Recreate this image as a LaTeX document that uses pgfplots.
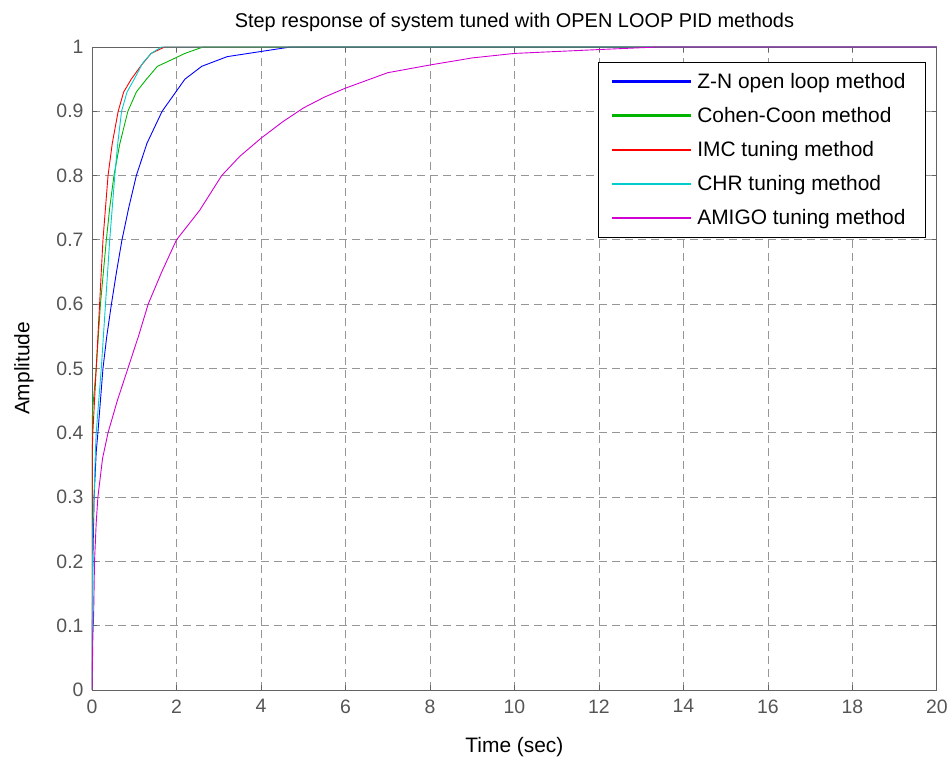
\documentclass[border=0pt]{standalone}
\usepackage{pgfplots}
\pgfplotsset{compat=1.18}
\usepackage{fontspec}
\setmainfont{Liberation Sans}
\definecolor{axgray}{RGB}{100,100,100}
\definecolor{ticktext}{RGB}{85,85,85}
\definecolor{gridgray}{RGB}{150,150,150}
\definecolor{mgreen}{RGB}{0,180,0}
\definecolor{mcyan}{RGB}{0,205,205}
\definecolor{mmag}{RGB}{210,0,210}
\begin{document}
\begin{tikzpicture}[x=1bp,y=1bp]
\path (-92bp,-68bp) rectangle (859bp,690bp);
\begin{axis}[
  at={(0,0)}, anchor=south west,
  width=845bp, height=643bp, scale only axis,
  xmin=0, xmax=20, ymin=0, ymax=1,
  xtick={0,2,...,20}, ytick={0,0.1,...,1},
  yticklabels={0,0.1,0.2,0.3,0.4,0.5,0.6,0.7,0.8,0.9,1},
  /pgf/number format/assume math mode=true,
  tick label style={font=\fontsize{19.5}{22}\selectfont, text=ticktext},
  xticklabel style={yshift=-6bp},
  yticklabel style={xshift=-5bp},
  label style={font=\fontsize{21}{24}\selectfont},
  title style={font=\fontsize{20}{23}\selectfont, yshift=6bp},
  title={Step response of system tuned with OPEN LOOP PID methods},
  xlabel={Time (sec)}, ylabel={Amplitude},
  xlabel style={yshift=-17bp}, ylabel style={yshift=16bp},
  axis line style={axgray, line width=0.8bp},
  tick style={axgray, line width=0.8bp}, tick align=inside,
  major tick length=5bp,
  grid=major,
  major grid style={gridgray, dash pattern=on 8bp off 5bp, line width=0.8bp},
  legend style={at={(0.987,0.977)}, anchor=north east, draw=black, line width=0.8bp,
    font=\fontsize{21}{24}\selectfont, row sep=13.5bp, inner xsep=14bp, inner ysep=9bp,
    nodes={inner xsep=6bp}},
  legend cell align=left,
  legend image code/.code={\fill[#1] (0bp,-0.75bp) rectangle (78bp,0.75bp);},
  every axis plot/.append style={line width=0.9bp},
]
\addplot[blue] coordinates {(0,0) (0.02,0.2) (0.05,0.3) (0.1,0.37) (0.14,0.4) (0.2,0.45) (0.26,0.5) (0.35,0.55) (0.46,0.6) (0.58,0.65) (0.71,0.7) (0.87,0.75) (1.05,0.8) (1.3,0.85) (1.66,0.9) (2.2,0.95) (2.6,0.97) (3.2,0.985) (4.0,0.993) (4.7,1.0) (20,1.0)};
\addlegendentry{Z-N open loop method}
\addplot[mgreen] coordinates {(0,0) (0.005,0.42) (0.02,0.44) (0.06,0.47) (0.1,0.5) (0.15,0.55) (0.2,0.6) (0.27,0.65) (0.34,0.7) (0.42,0.75) (0.52,0.8) (0.66,0.85) (0.85,0.9) (1.05,0.93) (1.29,0.95) (1.55,0.97) (1.88,0.98) (2.2,0.99) (2.63,1.0) (20,1.0)};
\addlegendentry{Cohen-Coon method}
\addplot[red] coordinates {(0,0) (0.005,0.37) (0.02,0.4) (0.06,0.45) (0.1,0.5) (0.14,0.55) (0.18,0.6) (0.22,0.65) (0.26,0.7) (0.32,0.75) (0.38,0.8) (0.48,0.85) (0.62,0.9) (0.75,0.93) (0.93,0.95) (1.15,0.97) (1.4,0.99) (1.72,1.0) (20,1.0)};
\addlegendentry{IMC tuning method}
\addplot[mcyan] coordinates {(0,0) (0.02,0.25) (0.05,0.3) (0.08,0.37) (0.1,0.4) (0.16,0.45) (0.22,0.5) (0.27,0.55) (0.32,0.6) (0.37,0.65) (0.42,0.7) (0.48,0.75) (0.54,0.8) (0.61,0.85) (0.7,0.9) (0.83,0.93) (1.0,0.95) (1.2,0.975) (1.4,0.99) (1.64,1.0) (20,1.0)};
\addlegendentry{CHR tuning method}
\addplot[mmag] coordinates {(0,0) (0.02,0.08) (0.04,0.12) (0.06,0.2) (0.1,0.26) (0.14,0.3) (0.25,0.36) (0.38,0.4) (0.6,0.45) (0.85,0.5) (1.1,0.55) (1.33,0.6) (1.65,0.65) (2.0,0.7) (2.55,0.746) (3.07,0.8) (3.5,0.83) (4.0,0.858) (4.5,0.883) (5,0.905) (5.5,0.922) (6,0.936) (7,0.96) (8,0.972) (9,0.983) (10,0.99) (11,0.993) (12,0.996) (13.4,1.0) (20,1.0)};
\addlegendentry{AMIGO tuning method}
\end{axis}
\end{tikzpicture}
\end{document}
